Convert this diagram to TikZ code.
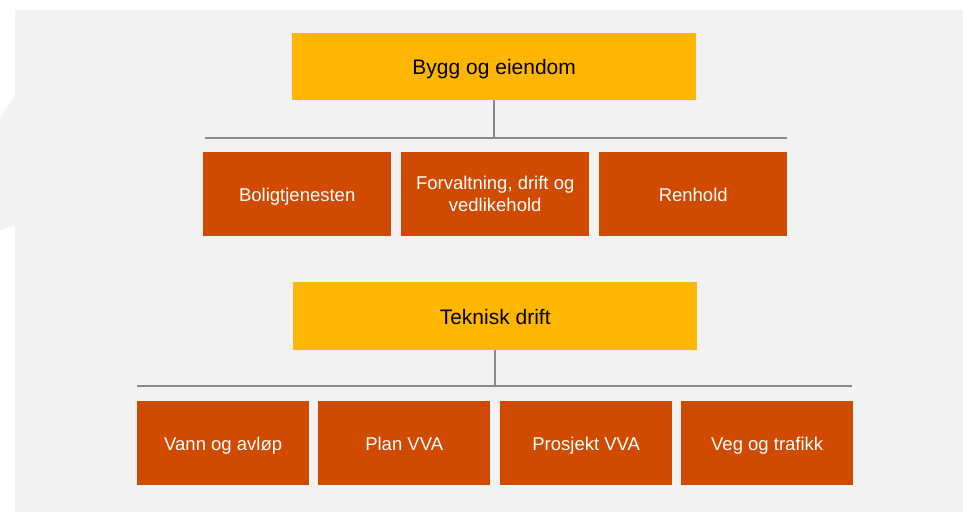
\documentclass[tikz,border=0pt]{standalone}
\usepackage{fontspec}
\setmainfont{Liberation Sans}
\definecolor{panelgray}{HTML}{F2F2F2}
\definecolor{headyellow}{HTML}{FFB600}
\definecolor{unitorange}{HTML}{D04A02}
\definecolor{linkgray}{HTML}{8A8A8A}
\begin{document}
\begin{tikzpicture}[x=1pt,y=-1pt,
  head/.style={fill=headyellow, anchor=north west, minimum width=404pt,
    minimum height=67pt, inner sep=0pt, text=black,
    text height=19pt, text depth=3pt,
    font=\fontsize{21}{25}\selectfont},
  unitbase/.style={fill=unitorange, anchor=north west, minimum width=188pt,
    minimum height=84pt, inner sep=0pt, text=white, align=center,
    font=\fontsize{18.5}{22}\selectfont},
  unit/.style={unitbase, text height=17pt, text depth=3pt},
  smallunit/.style={unit, minimum width=172pt},
  link/.style={draw=linkgray, line width=2pt}]

% page and grey panel
\useasboundingbox (0,0) rectangle (963,512);
\fill[white] (0,0) rectangle (963,512);
\fill[panelgray] (15,10) rectangle (963,512);
\fill[panelgray] (0,118) -- (15,95) -- (15,225) -- (0,230) -- cycle;

% Bygg og eiendom
\node[head] (bygg) at (292,33) {Bygg og eiendom};
\coordinate (bar1l) at (205,137.5);
\coordinate (bar1r) at (787,137.5);
\draw[link] (bar1l) -- (bar1r);
\draw[link] (bygg.south) -- (bygg.south |- bar1l);
\node[unit] (bolig) at (203,152) {Boligtjenesten};
\node[unitbase] (forv) at (401,152) {Forvaltning, drift og\\vedlikehold};
\node[unit] (renh) at (599,152) {Renhold};

% Teknisk drift
\node[head, minimum height=68pt] (tekn) at (293,282) {Teknisk drift};
\coordinate (bar2l) at (137,386);
\coordinate (bar2r) at (852,386);
\draw[link] (bar2l) -- (bar2r);
\draw[link] (tekn.south) -- (tekn.south |- bar2l);
\node[smallunit] (vann) at (137,401) {Vann og avløp};
\node[smallunit] (plan) at (318,401) {Plan VVA};
\node[smallunit] (prosj) at (500,401) {Prosjekt VVA};
\node[smallunit] (veg) at (681,401) {Veg og trafikk};
\end{tikzpicture}
\end{document}
